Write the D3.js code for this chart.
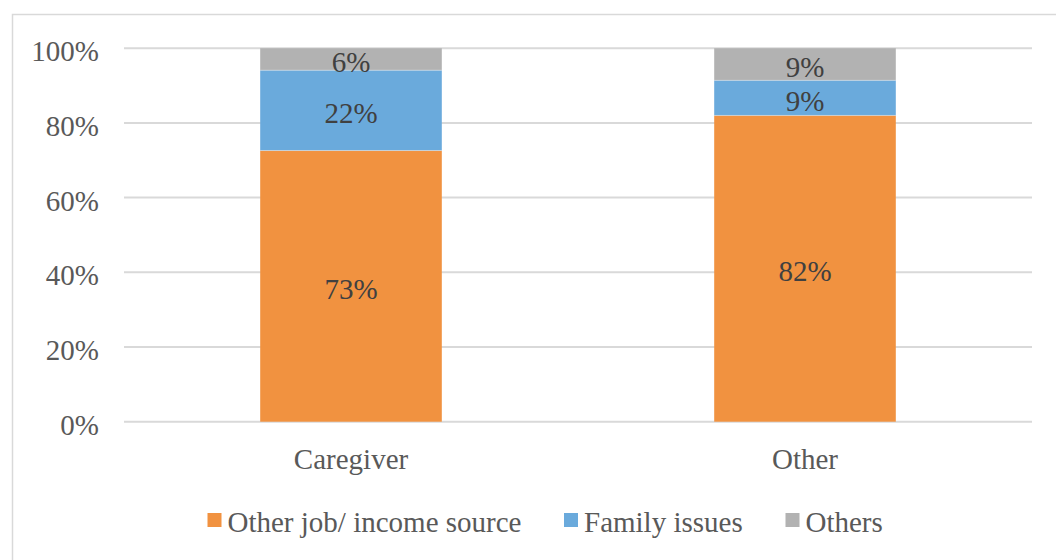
<!DOCTYPE html>
<html>
<head>
<meta charset="utf-8">
<script src="https://cdn.jsdelivr.net/npm/d3@7"></script>
</head>
<body style="margin:0">
<svg id="chart" width="1056" height="560" font-family="Liberation Serif"></svg>
<script>
const categories = ["Caregiver", "Other"];
const seriesNames = ["Other job/ income source", "Family issues", "Others"];
const seriesValues = [
  [72.6, 82.0],   // Other job/ income source
  [21.5, 9.4],    // Family issues
  [5.9, 8.6]      // Others
];
const seriesLabels = [
  ["73%", "82%"],
  ["22%", "9%"],
  ["6%", "9%"]
];
const tickValues = [0, 20, 40, 60, 80, 100];
const tickLabels = ["0%", "20%", "40%", "60%", "80%", "100%"];
const colors = ["#F19240", "#6AAADC", "#B2B2B2"];

function draw() {
  const FONT = '"Liberation Serif", monospace';
  const svg = d3.select("#chart");

  svg.append("rect")
    .attr("x", 12.5).attr("y", 14.5)
    .attr("width", 1100).attr("height", 600)
    .attr("fill", "none").attr("stroke", "#d9d9d9").attr("stroke-width", 1.5);

  const plotLeft = 124, plotRight = 1032, plotTop = 48.2, plotBottom = 421.7;

  const x = d3.scaleBand().domain(categories).range([plotLeft, plotRight])
    .paddingInner(0.6).paddingOuter(0.3);
  const y = d3.scaleLinear().domain([0, 100]).range([plotBottom, plotTop]);

  svg.append("g").selectAll("line").data(tickValues).join("line")
    .attr("x1", plotLeft).attr("x2", plotRight)
    .attr("y1", d => y(d)).attr("y2", d => y(d))
    .attr("stroke", "#d9d9d9").attr("stroke-width", 2);

  svg.append("g").selectAll("text").data(tickValues).join("text")
    .attr("x", 99).attr("y", d => y(d)).attr("dy", 13)
    .attr("text-anchor", "end")
    .style("font-family", FONT)
    .attr("font-size", 29).attr("fill", "#595959")
    .text((d, i) => tickLabels[i]);

  const rows = categories.map((c, j) => {
    const r = { cat: c };
    seriesNames.forEach((s, i) => r[s] = seriesValues[i][j]);
    return r;
  });
  const stacked = d3.stack().keys(seriesNames)(rows);

  const gBars = svg.append("g");
  stacked.forEach((layer, i) => {
    gBars.append("g").selectAll("rect").data(layer).join("rect")
      .attr("x", d => x(d.data.cat))
      .attr("width", x.bandwidth())
      .attr("y", d => y(d[1]))
      .attr("height", d => y(d[0]) - y(d[1]))
      .attr("fill", colors[i]);
  });
  stacked.slice(1).forEach(layer => {
    gBars.append("g").selectAll("line").data(layer).join("line")
      .attr("x1", d => x(d.data.cat)).attr("x2", d => x(d.data.cat) + x.bandwidth())
      .attr("y1", d => y(d[0])).attr("y2", d => y(d[0]))
      .attr("stroke", "#ffffff").attr("stroke-opacity", 0.35).attr("stroke-width", 1);
  });

  stacked.forEach((layer, i) => {
    svg.append("g").selectAll("text").data(layer).join("text")
      .attr("x", d => x(d.data.cat) + x.bandwidth() / 2)
      .attr("y", d => (y(d[0]) + y(d[1])) / 2)
      .attr("dy", 12.8)
      .attr("text-anchor", "middle")
      .style("font-family", FONT)
      .attr("font-size", 29).attr("fill", "#404040")
      .text((d, j) => seriesLabels[i][j]);
  });

  svg.append("g").selectAll("text").data(categories).join("text")
    .attr("x", d => x(d) + x.bandwidth() / 2)
    .attr("y", 469)
    .attr("text-anchor", "middle")
    .style("font-family", FONT)
    .attr("font-size", 29).attr("fill", "#595959")
    .text(d => d);

  const legend = svg.append("g");
  const legendX = [207.5, 564, 785.5];
  seriesNames.forEach((s, i) => {
    legend.append("rect")
      .attr("x", legendX[i]).attr("y", 513)
      .attr("width", 14).attr("height", 14)
      .attr("fill", colors[i]);
    legend.append("text")
      .attr("x", legendX[i] + 20).attr("y", 532)
      .style("font-family", FONT)
      .attr("font-size", 29).attr("fill", "#595959")
      .text(s);
  });
}
draw();
</script>
</body>
</html>
